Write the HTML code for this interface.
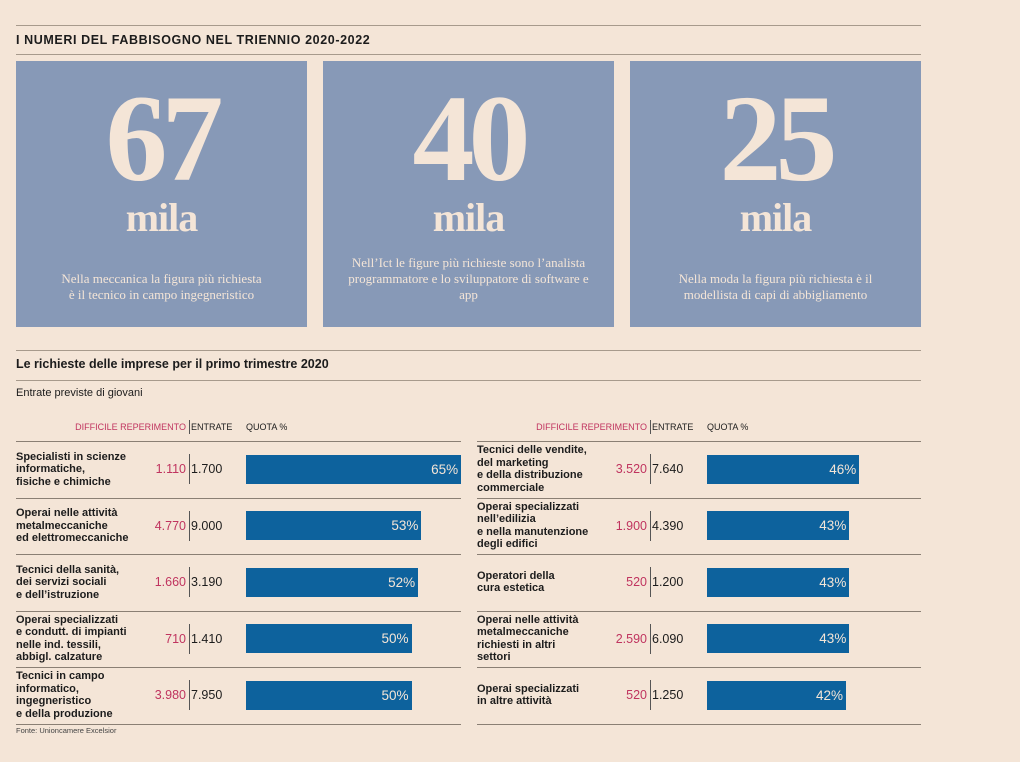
<!DOCTYPE html>
<html><head><meta charset="utf-8"><style>
body{margin:0;width:1020px;height:762px;background:#f4e5d7;position:relative;overflow:hidden;font-family:"Liberation Sans",sans-serif;color:#1c1c1c}
.abs{position:absolute}
.hl{position:absolute;height:1px;background:#a79a8c}
.box{position:absolute;top:61px;width:291px;height:266px;background:#8799b7;color:#f4e5d7;text-align:center;font-family:"Liberation Serif",serif}
.big{position:absolute;left:0;right:0;top:16px;font-size:124px;font-weight:bold;line-height:124px;letter-spacing:-6px}
.mila{position:absolute;left:0;right:0;top:134px;font-size:40px;font-weight:bold;line-height:46px;letter-spacing:-1px}
.desc{position:absolute;left:20px;right:20px;font-size:13px;line-height:16px}
.hdr{position:absolute;top:421px;font-size:9px;line-height:12px}
.lab{position:absolute;font-size:11px;font-weight:bold;line-height:12.5px}
.num{position:absolute;font-size:12.5px;line-height:14px}
.bar{position:absolute;height:29px;background:#0d629d;color:#f4e5d7;font-size:13.5px;line-height:29px;text-align:right;box-sizing:border-box;padding-right:3px}
.vl{position:absolute;width:1px;background:#555}
</style></head><body>
<div class="hl" style="left:16px;width:905px;top:25px"></div>
<div class="abs" style="left:16px;top:33px;font-size:12.5px;font-weight:bold;letter-spacing:0.6px">I NUMERI DEL FABBISOGNO NEL TRIENNIO 2020-2022</div>
<div class="hl" style="left:16px;width:905px;top:54px"></div>

<div class="box" style="left:16px"><div class="big">67</div><div class="mila">mila</div><div class="desc" style="top:210px">Nella meccanica la figura più richiesta<br>è il tecnico in campo ingegneristico</div></div>
<div class="box" style="left:323px"><div class="big">40</div><div class="mila">mila</div><div class="desc" style="top:194px">Nell’Ict le figure più richieste sono l’analista programmatore e lo sviluppatore di software e app</div></div>
<div class="box" style="left:630px"><div class="big">25</div><div class="mila">mila</div><div class="desc" style="top:210px">Nella moda la figura più richiesta è il<br>modellista di capi di abbigliamento</div></div>

<div class="hl" style="left:16px;width:905px;top:350px"></div>
<div class="abs" style="left:16px;top:357px;font-size:12.5px;font-weight:bold">Le richieste delle imprese per il primo trimestre 2020</div>
<div class="hl" style="left:16px;width:905px;top:380px"></div>
<div class="abs" style="left:16px;top:387px;font-size:11px">Entrate previste di giovani</div>
<div class="abs" style="left:16px;top:726px;font-size:7.5px;color:#444">Fonte: Unioncamere Excelsior</div>
<div id="t"></div>
<script>
const labelsL=["Specialisti in scienze<br>informatiche,<br>fisiche e chimiche","Operai nelle attività<br>metalmeccaniche<br>ed elettromeccaniche","Tecnici della sanità,<br>dei servizi sociali<br>e dell’istruzione","Operai specializzati<br>e condutt. di impianti<br>nelle ind. tessili,<br>abbigl. calzature","Tecnici in campo<br>informatico,<br>ingegneristico<br>e della produzione"];
const difficileL=["1.110","4.770","1.660","710","3.980"];
const entrateL=["1.700","9.000","3.190","1.410","7.950"];
const quotaL=[65,53,52,50,50];
const labelsR=["Tecnici delle vendite,<br>del marketing<br>e della distribuzione<br>commerciale","Operai specializzati<br>nell’edilizia<br>e nella manutenzione<br>degli edifici","Operatori della<br>cura estetica","Operai nelle attività<br>metalmeccaniche<br>richiesti in altri<br>settori","Operai specializzati<br>in altre attività"];
const difficileR=["3.520","1.900","520","2.590","520"];
const entrateR=["7.640","4.390","1.200","6.090","1.250"];
const quotaR=[46,43,43,43,42];
const root=document.getElementById('t');
const PX=3.31,ROW=56.5,TOP=441;
function add(html,name){const d=document.createElement('div');d.innerHTML=html;const e=d.firstChild;

root.appendChild(e);return e;}
function table(x0,w,labels,dif,ent,quo,side){
  add(`<div class="hdr" style="left:${x0}px;text-align:right;color:#c0345f;width:170px">DIFFICILE REPERIMENTO</div>`,side+'-header-difficile');
  add(`<div class="vl" style="left:${x0+173}px;top:420px;height:14px"></div>`,side+'-header-divider');
  add(`<div class="hdr" style="left:${x0+175}px">ENTRATE</div>`,side+'-header-entrate');
  add(`<div class="hdr" style="left:${x0+230}px">QUOTA %</div>`,side+'-header-quota');
  for(let i=0;i<labels.length;i++){
    const y=TOP+i*ROW, cy=y+ROW/2;
    add(`<div class="hl" style="left:${x0}px;width:${w}px;top:${y}px;background:#8a7f74"></div>`,side+'-row-rule-'+i);
    const n=labels[i].split('<br>').length;
    add(`<div class="lab" style="left:${x0}px;top:${cy-n*12.5/2}px">${labels[i]}</div>`,side+'-row-label-'+i);
    add(`<div class="num" style="left:${x0}px;width:170px;text-align:right;top:${cy-7}px;color:#c0345f">${dif[i]}</div>`,side+'-difficile-'+i);
    add(`<div class="vl" style="left:${x0+173}px;top:${cy-15}px;height:30px"></div>`,side+'-divider-'+i);
    add(`<div class="num" style="left:${x0+175}px;top:${cy-7}px">${ent[i]}</div>`,side+'-entrate-'+i);
    add(`<div class="bar" style="left:${x0+230}px;top:${cy-14.5}px;width:${quo[i]*PX}px">${quo[i]}%</div>`,side+'-bar-'+i);
  }
  add(`<div class="hl" style="left:${x0}px;width:${w}px;top:${TOP+labels.length*ROW}px;background:#8a7f74"></div>`,side+'-bottom-rule');
}
table(16,445,labelsL,difficileL,entrateL,quotaL,'left');
table(477,444,labelsR,difficileR,entrateR,quotaR,'right');
</script>
</body></html>
